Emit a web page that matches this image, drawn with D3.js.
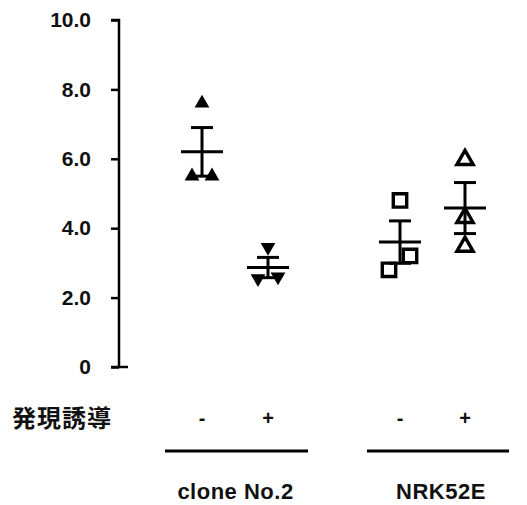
<!DOCTYPE html>
<html><head><meta charset="utf-8">
<script src="https://cdn.jsdelivr.net/npm/d3@7"></script>
<style>body{margin:0;background:#fff}svg{display:block}</style>
</head><body>
<script>
const groups = ["clone No.2", "NRK52E"];
const inductionLabels = ["-", "+", "-", "+"];
const rowLabel = "発現誘導";
const seriesNames = ["clone-", "clone+", "NRK-", "NRK+"];
const seriesGroup = [0, 0, 1, 1];
const seriesShape = ["triUp", "triDown", "square", "triOpen"];
const values = [
  [7.6, 5.5, 5.5],
  [3.45, 2.55, 2.6],
  [4.8, 2.8, 3.2],
  [5.97, 4.3, 3.47]
];
const tickValues = [0, 2, 4, 6, 8, 10];
const tickLabels = ["0", "2.0", "4.0", "6.0", "8.0", "10.0"];

const W = 527, H = 505;
const svg = d3.select("body").append("svg").attr("width", W).attr("height", H);
const y = d3.scaleLinear().domain([0, 10]).range([367, 20]);
const xPos = d3.scaleOrdinal().domain(seriesNames).range([202, 268, 400, 465]);

const axisX = 119;
const axis = d3.axisLeft(y).tickValues(tickValues).tickFormat((d, i) => tickLabels[i]).tickSize(8).tickPadding(20);
const ax = svg.append("g").attr("transform", `translate(${axisX},0)`).call(axis);
ax.select(".domain").attr("d", `M-8,${y(10)}H0V${y(0)}`).attr("stroke", "#000").attr("stroke-width", 2.5).attr("fill", "none");
ax.selectAll(".tick line").attr("stroke", "#000").attr("stroke-width", 2.5);
ax.selectAll(".tick text").attr("font-family", "Liberation Sans, Arial, sans-serif").attr("font-size", 21).attr("font-weight", "bold").attr("fill", "#111");
svg.append("line").attr("x1", axisX - 8).attr("x2", axisX + 9).attr("y1", y(0)).attr("y2", y(0)).attr("stroke", "#000").attr("stroke-width", 2.5);

const sym = {
  triUp: d3.symbol().type(d3.symbolTriangle).size(95),
  triDown: d3.symbol().type(d3.symbolTriangle).size(95),
  square: d3.symbol().type(d3.symbolSquare).size(180),
  triOpen: d3.symbol().type(d3.symbolTriangle).size(115)
};

const jitter = [
  [0, -10, 10],
  [0, -10, 10],
  [0, -11, 10],
  [0, 0, 0]
];

values.forEach((vals, si) => {
  const cx = xPos(seriesNames[si]);
  const m = d3.mean(vals);
  const sem = d3.deviation(vals) / Math.sqrt(vals.length);
  const g = svg.append("g");
  vals.forEach((v, j) => {
    const shape = seriesShape[si];
    const px = cx + jitter[si][j], py = y(v);
    const p = g.append("path").attr("d", sym[shape]());
    if (shape === "triDown") p.attr("transform", `translate(${px},${py}) rotate(180)`);
    else p.attr("transform", `translate(${px},${py})`);
    if (shape === "triUp" || shape === "triDown") p.attr("fill", "#000");
    else p.attr("fill", "none").attr("stroke", "#000").attr("stroke-width", 3.4);
  });
  g.append("line").attr("x1", cx).attr("x2", cx).attr("y1", y(m + sem)).attr("y2", y(m - sem)).attr("stroke", "#000").attr("stroke-width", 3);
  g.append("line").attr("x1", cx - 11).attr("x2", cx + 11).attr("y1", y(m + sem)).attr("y2", y(m + sem)).attr("stroke", "#000").attr("stroke-width", 3);
  g.append("line").attr("x1", cx - 11).attr("x2", cx + 11).attr("y1", y(m - sem)).attr("y2", y(m - sem)).attr("stroke", "#000").attr("stroke-width", 3);
  g.append("line").attr("x1", cx - 21).attr("x2", cx + 21).attr("y1", y(m)).attr("y2", y(m)).attr("stroke", "#000").attr("stroke-width", 3);
});

svg.append("text").attr("x", 12).attr("y", 420).attr("dominant-baseline", "middle")
  .attr("font-family", "Noto Sans CJK JP, sans-serif").attr("font-size", 24).attr("font-weight", "bold").attr("fill", "#111")
  .attr("letter-spacing", 1)
  .text(rowLabel);
seriesNames.forEach((s, i) => {
  svg.append("text").attr("x", xPos(s)).attr("y", 420).attr("text-anchor", "middle").attr("dominant-baseline", "middle")
    .attr("font-family", "Liberation Sans, Arial, sans-serif").attr("font-size", 20).attr("font-weight", "bold").attr("fill", "#111")
    .text(inductionLabels[i]);
});

const groupSpan = [[165, 308], [367, 509]];
groups.forEach((gname, gi) => {
  const [a, b] = groupSpan[gi];
  svg.append("line").attr("x1", a).attr("x2", b).attr("y1", 451).attr("y2", 451).attr("stroke", "#000").attr("stroke-width", 3);
  svg.append("text").attr("x", (a + b) / 2 + (gi === 0 ? -1 : 3)).attr("y", 499).attr("text-anchor", "middle")
    .attr("font-family", "Liberation Sans, Arial, sans-serif").attr("font-size", 22).attr("font-weight", "bold").attr("fill", "#111")
    .attr("letter-spacing", 0.5)
    .text(gname);
});
</script>
</body></html>
